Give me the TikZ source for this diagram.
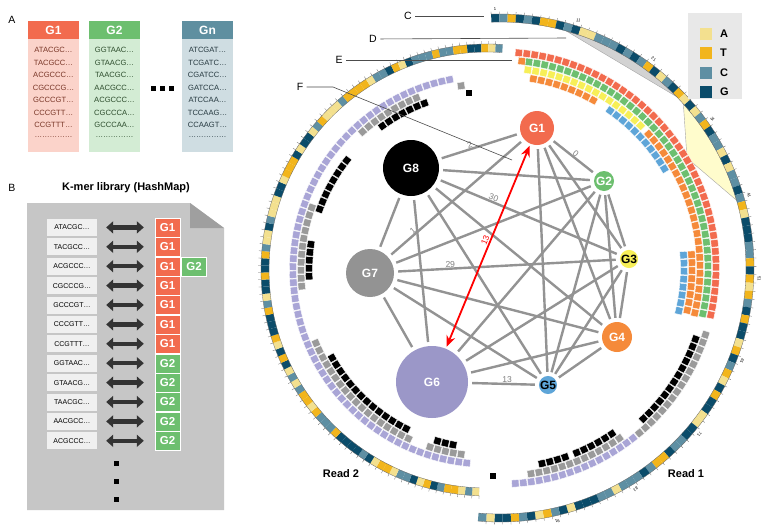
\documentclass[tikz,border=0pt]{standalone}
\usepackage{fontspec}
\setmainfont{Liberation Sans}
\usetikzlibrary{calc,arrows.meta}
\definecolor{sq1}{HTML}{F3E08F}
\definecolor{sq2}{HTML}{F2B51C}
\definecolor{sq3}{HTML}{5E8FA3}
\definecolor{sq4}{HTML}{0B4C6A}
\definecolor{cR}{HTML}{F26B4E}
\definecolor{cO}{HTML}{F58A3A}
\definecolor{cGr}{HTML}{6DBF6F}
\definecolor{cY}{HTML}{F7EF58}
\definecolor{cB}{HTML}{5EA5D8}
\definecolor{cP}{HTML}{A9A5D6}
\definecolor{cK}{HTML}{9A9A9A}
\definecolor{nP}{HTML}{9B97C8}
\definecolor{gn}{HTML}{5F8FA0}
\newcommand\dotln{\ldots\ldots\ldots\ldots\ldots}
\newcommand\trk[5]{%
 \pgfmathsetmacro\tkstep{458/#2}%
 \pgfmathsetmacro\tknn{int((#4-(#3))/\tkstep)}%
 \foreach \j in {0,...,\tknn}{\pgfmathsetmacro\aa{#3+\j*\tkstep}%
  \node[blk,fill=#5,rotate=-\aa] at ($(#1)+(\aa:#2)$) {};}}
\begin{document}
\begin{tikzpicture}[x=1pt,y=-1pt,
 blk/.style={minimum size=7.2pt,inner sep=0,draw=white,line width=0.4pt},
 hdr/.style={minimum width=51pt,minimum height=18pt,inner sep=0,text=white,font=\bfseries\fontsize{12}{12}\selectfont},
 sq/.style={font=\fontsize{7.6}{7.6}\selectfont,inner sep=0},
 key/.style={fill=gray!12,minimum width=50pt,minimum height=17pt,inner sep=0,font=\fontsize{7}{7}\selectfont},
 gb/.style={minimum width=25pt,minimum height=19pt,inner sep=0,text=white,draw=white,line width=0.4pt,font=\bfseries\fontsize{11.5}{11.5}\selectfont},
 darr/.style={line width=4.5pt,draw=black!80,{Triangle[width=12pt,length=7pt]}-{Triangle[width=12pt,length=7pt]}},
 gn/.style={circle,inner sep=0,text=white,font=\bfseries\fontsize{12}{12}\selectfont},
 edge/.style={draw=gray!85,line width=2.4pt,shorten >=4pt,shorten <=4pt},
 elab/.style={text=gray,font=\fontsize{8.5}{8.5}\selectfont,inner sep=1pt},
 lab/.style={font=\fontsize{10.5}{10.5}\selectfont},
 call/.style={draw=black!70,line width=0.6pt}]
\useasboundingbox (0,0) rectangle (761,531);
\fill[white] (0,0) rectangle (761,531);
% ---------- Panel A
\node[lab] (LA) at (12,20) {A};
\fill[cR!30] (28,39) rectangle (79,152);
\fill[cGr!30] (89,39) rectangle (140,152);
\fill[gn!30] (182,39) rectangle (233,152);
\node[hdr,fill=cR] (hA1) at (53.5,30) {G1};
\node[hdr,fill=cGr] (hA2) at (114.5,30) {G2};
\node[hdr,fill=gn] (hAn) at (207.5,30) {Gn};
\foreach \t [count=\i] in {ATACGC…,TACGCC…,ACGCCC…,CGCCCG…,GCCCGT…,CCCGTT…,CCGTTT…,\dotln}
  {\node[sq,text=cR!50!black] (a1\i) at (53.5,37.5+12.5*\i) {\t};}
\foreach \t [count=\i] in {GGTAAC…,GTAACG…,TAACGC…,AACGCC…,ACGCCC…,CGCCCA…,GCCCAA…,\dotln}
  {\node[sq,text=cGr!40!black] (a2\i) at (114.5,37.5+12.5*\i) {\t};}
\foreach \t [count=\i] in {ATCGAT…,TCGATC…,CGATCC…,GATCCA…,ATCCAA…,TCCAAG…,CCAAGT…,\dotln}
  {\node[sq,text=gn!40!black] (an\i) at (207.5,37.5+12.5*\i) {\t};}
\foreach \x in {153,162,171}{\fill (\x-2.5,85.5) rectangle (\x+2.5,90.5);}
% ---------- Panel B
\node[lab] (LB) at (12,188) {B};
\node[font=\bfseries\fontsize{11}{11}\selectfont] (TB) at (126,188) {K-mer library (HashMap)};
\fill[gray!45] (27,203) -- (190,203) -- (224,228) -- (224,510) -- (27,510) -- cycle;
\fill[gray!75] (190,203) -- (224,228) -- (190,228) -- cycle;
\foreach \t [count=\i] in {ATACGC…,TACGCC…,ACGCCC…,CGCCCG…,GCCCGT…,CCCGTT…,CCGTTT…,GGTAAC…,GTAACG…,TAACGC…,AACGCC…,ACGCCC…}{
  \node[key] (k\i) at (72,208+19.4*\i) {\t};
  \ifnum\i<8 \node[gb,fill=cR] (g\i) at (167.5,208+19.4*\i) {G1};
  \else \node[gb,fill=cGr] (g\i) at (167.5,208+19.4*\i) {G2};\fi
  \draw[darr] ([xshift=9pt]k\i.east) -- ([xshift=-11pt]g\i.west);
}
\node[gb,fill=cGr] (g3b) at (194,266.2) {G2};
\foreach \y in {463,481,499}{\fill (114,\y-2.5) rectangle (119,\y+2.5);}
% ---------- Circos
\coordinate (Ca) at (500,268);
\coordinate (Cb) at (487,270);
\filldraw[fill=gray!35,draw=gray!70,line width=0.4pt] ($(Ca)+(-74.3:246)$) arc[start angle=-74.3,end angle=-44.2,radius=246] -- cycle;
\filldraw[fill=yellow!20,draw=gray!70,line width=0.4pt] ($(Ca)+(-41.8:246)$) arc[start angle=-41.8,end angle=-16,radius=246] -- (687,158) -- cycle;
\pgfmathsetseed{7}
\foreach \i in {0,...,99}{
 \pgfmathsetmacro\aa{-92+\i*1.87}\pgfmathsetmacro\bb{\aa+1.87}
 \pgfmathrandominteger\kk{1}{4}
 \fill[sq\kk] ($(Ca)+(\aa:246)$) arc[start angle=\aa,end angle=\bb,radius=246] -- ($(Ca)+(\bb:254)$) arc[start angle=\bb,end angle=\aa,radius=254] -- cycle;
 \draw[black!60,line width=0.3pt] ($(Ca)+(\aa:254)$) -- ($(Ca)+(\aa:256.5)$);
}
\draw[black!60,line width=0.3pt] ($(Ca)+(-92:254)$) arc[start angle=-92,end angle=95,radius=254];
\draw[black!60,line width=0.3pt] ($(Ca)+(-92:246)$) arc[start angle=-92,end angle=95,radius=246];
\foreach \n in {0,...,9}{
 \pgfmathsetmacro\aa{-92+\n*18.7+0.9}
 \node[font=\fontsize{4.2}{4.2}\selectfont,inner sep=0,rotate=-\aa-90] (n\n) at ($(Ca)+(\aa:259.5)$) {\the\numexpr\n*10+1\relax};
}
\foreach \i in {0,...,99}{
 \pgfmathsetmacro\aa{-268+\i*1.82}\pgfmathsetmacro\bb{\aa+1.82}
 \pgfmathrandominteger\kk{1}{4}
 \fill[sq\kk] ($(Cb)+(\aa:218)$) arc[start angle=\aa,end angle=\bb,radius=218] -- ($(Cb)+(\bb:226)$) arc[start angle=\bb,end angle=\aa,radius=226] -- cycle;
 \draw[black!60,line width=0.3pt] ($(Cb)+(\aa:226)$) -- ($(Cb)+(\aa:229)$);
}
\draw[black!60,line width=0.3pt] ($(Cb)+(-268:226)$) arc[start angle=-268,end angle=-86,radius=226];
\draw[black!60,line width=0.3pt] ($(Cb)+(-268:218)$) arc[start angle=-268,end angle=-86,radius=218];
\trk{Ca}{216}{-85}{14}{cR}
\trk{Ca}{208}{-82}{14}{cGr}
\node[blk,fill=cO,rotate=84] at ($(Ca)+(-84:208)$) {};
\trk{Ca}{200}{-82}{-44}{cY}
\trk{Ca}{200}{-42}{14}{cO}
\trk{Ca}{192}{-80}{-60}{cO}
\trk{Ca}{192}{-55}{-31}{cB}
\trk{Ca}{192}{-4}{14}{cO}
\trk{Ca}{184}{-4}{14}{cB}
\trk{Ca}{216}{18}{50}{cK}
\trk{Ca}{216}{52}{86}{cP}
\trk{Ca}{208}{20}{47}{black}
\trk{Ca}{208}{55}{82}{cK}
\trk{Ca}{200}{56}{68}{black}
\trk{Ca}{200}{71}{80}{black}
\node[blk,fill=black] at ($(Ca)+(92:208)$) {};
\trk{Cb}{194}{-264}{-99}{cP}
\trk{Cb}{186}{-262}{-252}{cK}
\trk{Cb}{186}{-245}{-202}{cK}
\trk{Cb}{186}{-185}{-160}{cK}
\trk{Cb}{186}{-132}{-110}{cK}
\trk{Cb}{186}{-98}{-96}{cK}
\trk{Cb}{178}{-259}{-252}{black}
\trk{Cb}{178}{-243}{-208}{black}
\trk{Cb}{178}{-182}{-170}{black}
\trk{Cb}{178}{-160}{-140}{black}
\trk{Cb}{178}{-126}{-110}{black}
\node[blk,fill=black] at ($(Cb)+(-96:178)$) {};
% Network
\node[gn,fill=cR,minimum size=34pt] (G1) at (537,128) {G1};
\node[gn,fill=cGr,minimum size=20pt] (G2) at (604,181) {G2};
\node[gn,fill=cY,minimum size=16pt,text=black] (G3) at (629,259) {G3};
\node[gn,fill=cO,minimum size=30pt] (G4) at (617,337) {G4};
\node[gn,fill=cB,minimum size=18pt,text=black] (G5) at (548,385) {G5};
\node[gn,fill=nP,minimum size=72pt] (G6) at (432,382) {G6};
\node[gn,fill=gray!85,minimum size=48pt] (G7) at (370,273) {G7};
\node[gn,fill=black,minimum size=56pt] (G8) at (411,168) {G8};
\foreach \a/\b in {G1/G2,G1/G3,G1/G4,G1/G5,G1/G7,G1/G8,G2/G3,G2/G4,G2/G5,G2/G6,G2/G7,G2/G8,G3/G4,G3/G5,G3/G6,G3/G7,G3/G8,G4/G5,G4/G6,G4/G7,G4/G8,G5/G6,G5/G7,G5/G8,G6/G7,G6/G8,G7/G8}
 {\draw[edge] (\a) -- (\b);}
\path (G8) -- (G1) node[elab,pos=0.4,above,sloped] {2};
\path (G1) -- (G2) node[elab,pos=0.5,above,sloped] {0};
\path (G8) -- (G3) node[elab,pos=0.3,above,sloped] {30};
\path (G7) -- (G1) node[elab,pos=0.2,above,sloped] {1};
\path (G7) -- (G3) node[elab,pos=0.25,above,sloped] {29};
\path (G6) -- (G5) node[elab,pos=0.55,above] {13};
\draw[red,line width=1.8pt,{Stealth[length=11pt,width=9pt]}-{Stealth[length=11pt,width=9pt]},shorten >=2pt,shorten <=2pt] (G1) -- (G6) node[pos=0.48,above,sloped,text=red,font=\fontsize{8.5}{8.5}\selectfont,inner sep=1pt] {13};
% Callouts
\node[lab] (LC) at (408,16) {C};
\node[lab] (LD) at (373,39) {D};
\node[lab] (LE) at (339,60) {E};
\node[lab] (LF) at (300,87) {F};
\coordinate (cC) at (484,16);
\coordinate (cD) at (566,38);
\coordinate (cE) at (512,60);
\coordinate (cF1) at (333,87);
\coordinate (cF2) at (512,160);
\draw[call] (LC) -- (cC);
\draw[call] (LD) -- (cD);
\draw[call] (LE) -- (cE);
\draw[call] (LF) -- (cF1) -- (cF2);
% Legend
\fill[gray!18] (688,13) rectangle (742,99);
\foreach \c/\t [count=\i] in {sq1/A,sq2/T,sq3/C,sq4/G}{
 \fill[\c] (700,8+19.5*\i) rectangle (712,20+19.5*\i);
 \node[font=\bfseries\fontsize{11}{11}\selectfont,anchor=west,inner sep=0] (lg\i) at (720,14+19.5*\i) {\t};
}
\node[font=\bfseries\fontsize{11}{11}\selectfont] (R2) at (341,474) {Read 2};
\node[font=\bfseries\fontsize{11}{11}\selectfont] (R1) at (686,474) {Read 1};
\end{tikzpicture}
\end{document}
